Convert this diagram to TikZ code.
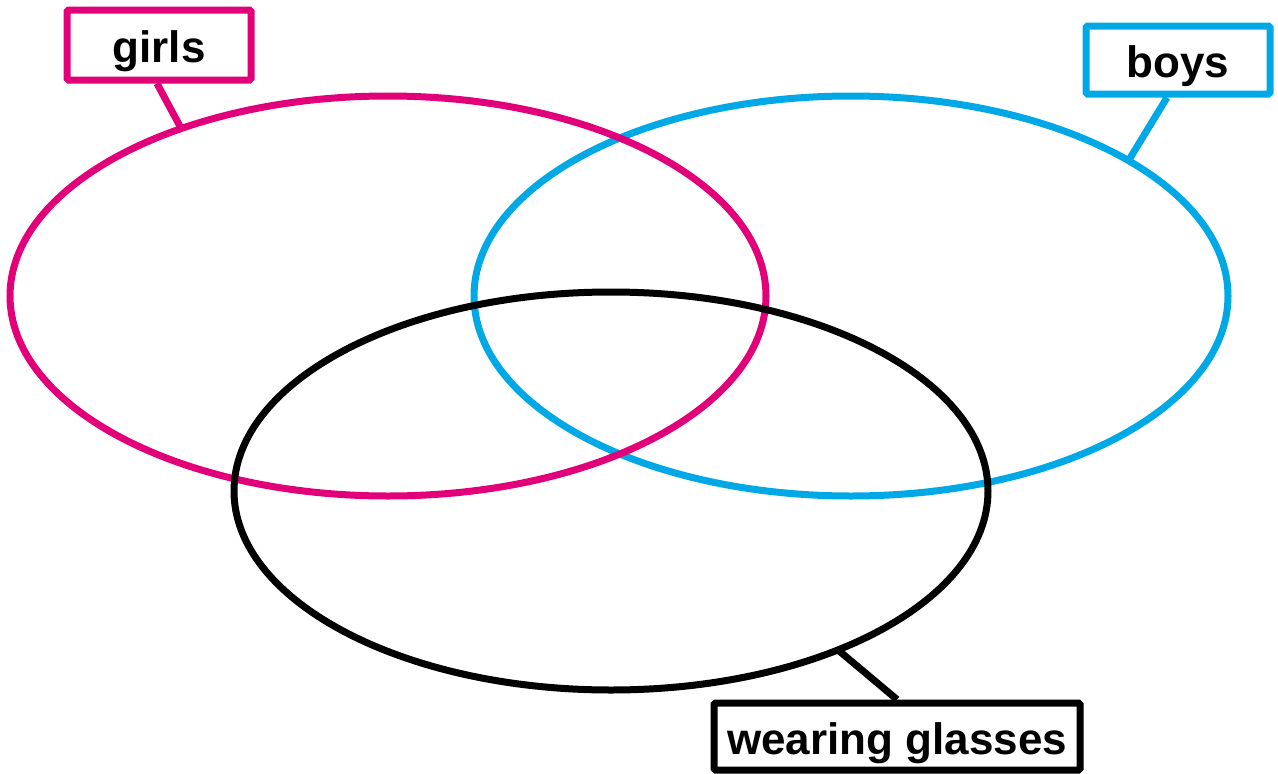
\documentclass[tikz,border=0pt]{standalone}
\usepackage{fontspec}
\setmainfont{Liberation Sans}
\usetikzlibrary{shapes.geometric}
\definecolor{gpink}{RGB}{226,0,122}
\definecolor{bblue}{RGB}{0,169,230}
\tikzset{
  setring/.style={ellipse, draw=#1, line width=7pt, inner sep=0pt, outer sep=0pt},
  tagbox/.style={draw=#1, line width=7pt, rounded corners=1.5pt, fill=white, inner sep=0pt, text height=44pt, text depth=9pt, font=\bfseries\fontsize{44}{44}\selectfont, text=black},
  tagline/.style={draw=#1, line width=7pt}
}
\begin{document}
\begin{tikzpicture}[x=1pt,y=-1pt]
\useasboundingbox (0,0) rectangle (1278,774);
\node[setring=bblue, minimum width=754pt, minimum height=400pt] (boys) at (851,296) {};
\node[setring=gpink, minimum width=756pt, minimum height=400pt] (girls) at (388,296) {};
\node[setring=black, minimum width=754pt, minimum height=398pt] (glasses) at (611,491) {};
\node[tagbox=gpink, minimum width=184pt, minimum height=70pt] (tg) at (159,45) {girls};
\node[tagbox=bblue, minimum width=184pt, minimum height=68pt] (tb) at (1178,60) {boys};
\node[tagbox=black, minimum width=366pt, minimum height=67pt] (tw) at (897,736.5) {wearing glasses};
\draw[tagline=gpink] ([xshift=-2pt]tg.south) -- (girls.141.3);
\draw[tagline=bblue] ([xshift=-11pt]tb.south) -- (boys.26.8);
\draw[tagline=black] (tw.north) -- (glasses.-35.3);
\end{tikzpicture}
\end{document}
